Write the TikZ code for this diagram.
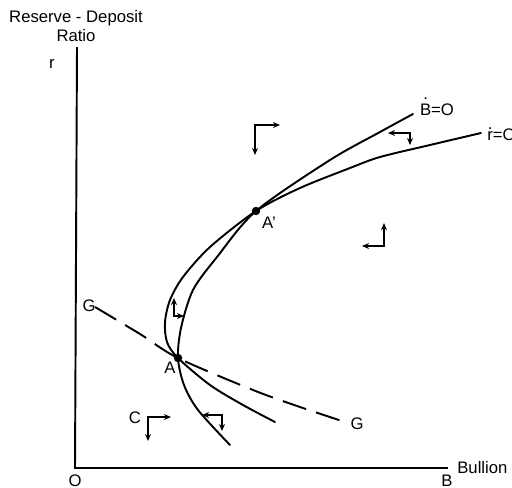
\documentclass[tikz,border=0pt]{standalone}
\usepackage{fontspec}
\setmainfont{Liberation Sans}
\usetikzlibrary{arrows.meta}
\newcommand\topdot[2]{\ooalign{#1\cr\hidewidth\raisebox{#2}{.}\hidewidth\cr}}
\begin{document}
\begin{tikzpicture}[x=0.02cm,y=-0.02cm,
  lbl/.style={inner sep=0pt, font=\fontsize{9.5}{11}\selectfont},
  curve/.style={line width=1.1pt, line cap=round},
  axis/.style={line width=1.1pt},
  pa/.style={line width=0.8pt, {Stealth[length=4pt,width=3.4pt]}-{Stealth[length=4pt,width=3.4pt]}},
  gline/.style={line width=1.1pt, dash pattern=on 14pt off 6pt},
  dot/.style={circle, fill, inner sep=0pt, minimum size=4.8pt},
  ]
\useasboundingbox (0,0) rectangle (512,488);
% axes
\coordinate (top) at (77,47);
\coordinate (O) at (75,468);
\coordinate (xend) at (448,468);
\draw[axis] (top) -- (O) -- (xend);
\node[lbl, align=center] (ylab) at (76,26) {Reserve - Deposit\\Ratio};
\node[lbl] (r) at (52,64) {r};
\node[lbl] (olab) at (75,481) {O};
\node[lbl] (blab) at (447,481) {B};
\node[lbl, anchor=west] (bull) at (457,468) {Bullion};
% curves
\draw[curve] plot[smooth] coordinates {(413,114) (380,132) (330,160) (256,211) (217,257) (193,290) (181,328) (178,358) (184,385) (198,410) (230,445)};
\draw[curve] plot[smooth] coordinates {(481,133) (430,145) (380,157) (350,168) (300,188) (256,211) (210,247) (183,277) (170,300) (165,322) (167,342) (178,358) (210,385) (243,405) (275,422)};
\draw[gline] plot[smooth] coordinates {(95,307) (140,334) (178,358) (253,390) (300,407) (348,423)};
% equilibrium points
\node[dot] (A) at (178,358) {};
\node[dot] (Ap) at (256,211) {};
\node[lbl] (Alab) at (170,368) {A};
\node[lbl] (Aplab) at (269,223) {A'};
\node[lbl] (G1) at (89,306) {G};
\node[lbl] (G2) at (357,424) {G};
\node[lbl] (C) at (135,418) {C};
\node[lbl] (Bdot) at (437,110) {\topdot{B}{0.95em}=O};
\node[lbl, anchor=west] (rdot) at (487,135) {\topdot{r}{0.7em}=O};
% phase arrows
\coordinate (c1) at (255,125); \coordinate (a1) at (280,125); \coordinate (b1) at (255,155);
\coordinate (c2) at (410,133); \coordinate (a2) at (388,133); \coordinate (b2) at (410,145);
\coordinate (c3) at (384,246); \coordinate (a3) at (362,246); \coordinate (b3) at (384,223);
\coordinate (c4) at (174,316); \coordinate (a4) at (174,298); \coordinate (b4) at (184,316);
\coordinate (c5) at (148,417); \coordinate (a5) at (171,417); \coordinate (b5) at (148,441);
\coordinate (c6) at (222,415); \coordinate (a6) at (202,415); \coordinate (b6) at (222,431);
\draw[pa] (a1) -- (c1) -- (b1);
\draw[pa] (a2) -- (c2) -- (b2);
\draw[pa] (a3) -- (c3) -- (b3);
\draw[pa] (a4) -- (c4) -- (b4);
\draw[pa] (a5) -- (c5) -- (b5);
\draw[pa] (a6) -- (c6) -- (b6);
\end{tikzpicture}
\end{document}
